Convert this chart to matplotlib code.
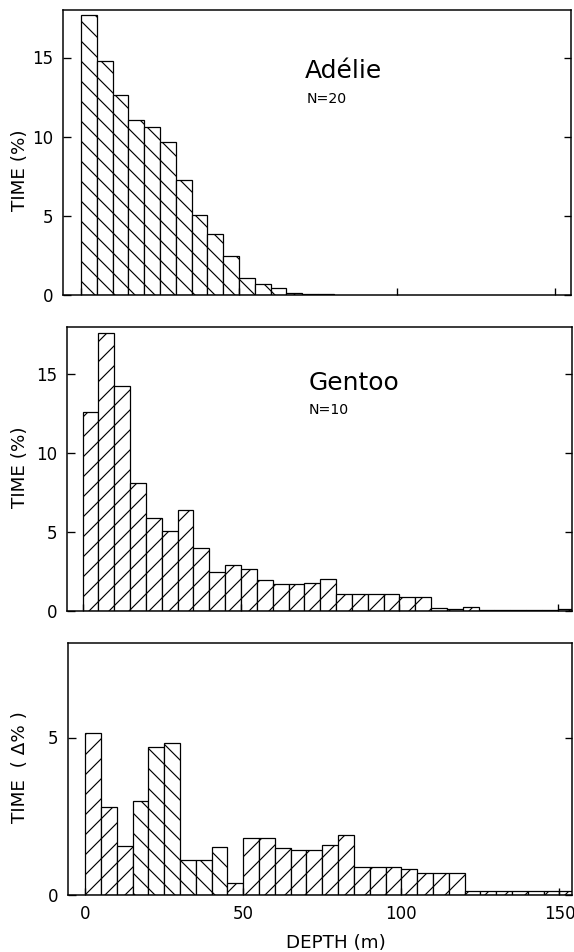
import matplotlib
matplotlib.use("Agg")
import matplotlib.pyplot as plt
import numpy as np

plt.rcParams['font.family'] = ['DejaVu Sans']
plt.rcParams['hatch.linewidth'] = 0.7

# ---- data (5-m depth bins) ----
bin_width = 5
adelie_bins = [0, 5, 10, 15, 20, 25, 30, 35, 40, 45, 50, 55, 60, 65, 70, 75]
adelie_vals = [17.66, 14.81, 12.62, 11.08, 10.59, 9.68, 7.28, 5.06, 3.84, 2.47,
               1.10, 0.68, 0.46, 0.12, 0.08, 0.06]

gentoo_bins = [0, 5, 10, 15, 20, 25, 30, 35, 40, 45, 50, 55, 60, 65, 70, 75,
               80, 85, 90, 95, 100, 105, 110, 115, 120, 125, 130, 135, 140, 145, 150]
gentoo_vals = [12.62, 17.65, 14.27, 8.10, 5.92, 5.07, 6.41, 3.97, 2.49, 2.92,
               2.69, 1.95, 1.72, 1.72, 1.80, 2.02, 1.10, 1.10, 1.10, 1.10,
               0.90, 0.90, 0.17, 0.12, 0.25, 0.08, 0.08, 0.08, 0.08, 0.08, 0.10]

diff_bins = [0, 5, 10, 15, 20, 25, 30, 35, 40, 45, 50, 55, 60, 65, 70, 75,
             80, 85, 90, 95, 100, 105, 110, 115, 120, 125, 130, 135, 140, 145, 150]
diff_vals = [5.13, 2.79, 1.56, 3.00, 4.71, 4.83, 1.10, 1.10, 1.51, 0.37,
             1.81, 1.80, 1.49, 1.42, 1.42, 1.60, 1.92, 0.90, 0.90, 0.88,
             0.84, 0.71, 0.71, 0.71, 0.13, 0.13, 0.13, 0.13, 0.13, 0.13, 0.13]
# which species has more time in the bin ('A' = Adelie, 'G' = Gentoo)
diff_owner = ['G', 'G', 'G', 'A', 'A', 'A', 'A', 'A', 'A', 'G',
              'G', 'G', 'G', 'G', 'G', 'G', 'G', 'G', 'G', 'G',
              'G', 'G', 'G', 'G', 'G', 'G', 'G', 'G', 'G', 'G', 'G']

y_ticks_main = [0, 5, 10, 15]
y_ticks_diff = [0, 5]
x_ticks = [0, 50, 100, 150]

W, H, DPI = 574, 952, 120
fig = plt.figure(figsize=(W / DPI, H / DPI), dpi=DPI)


def px_axes(left, right, top, bottom):
    return fig.add_axes([left / W, 1 - bottom / H, (right - left) / W, (bottom - top) / H])


ax1 = px_axes(63, 571, 10, 295)
ax2 = px_axes(67, 571.5, 327, 611)
ax3 = px_axes(68, 571.5, 643, 895)

hatch_map = {'A': '\\\\', 'G': '//'}
bar_kw = dict(width=bin_width, align='edge', facecolor='white', edgecolor='black', linewidth=0.75)

ax1.bar(adelie_bins, adelie_vals, hatch=hatch_map['A'], **bar_kw)
ax2.bar(gentoo_bins, gentoo_vals, hatch=hatch_map['G'], **bar_kw)
for b, v, o in zip(diff_bins, diff_vals, diff_owner):
    ax3.bar([b], [v], hatch=hatch_map[o], **bar_kw)

ax1.set_xlim(-5.7, 155.1)
ax2.set_xlim(-4.9, 154.3)
ax3.set_xlim(-5.4, 153.8)
ax1.set_ylim(0, 18)
ax2.set_ylim(0, 18)
ax3.set_ylim(0, 8)

for ax, yt in ((ax1, y_ticks_main), (ax2, y_ticks_main), (ax3, y_ticks_diff)):
    ax.set_yticks(yt)
    ax.set_xticks(x_ticks)
    ax.tick_params(direction='in', length=4.5, width=0.8, labelsize=10, pad=6,
                   right=True, top=False, colors='black')
    for s in ax.spines.values():
        s.set_linewidth(0.9)
    ax.set_ylabel('TIME (%)', fontsize=11)

ax1.tick_params(labelbottom=False)
ax2.tick_params(labelbottom=False)
ax3.set_ylabel('TIME  ( Δ% )', fontsize=11)

for ax, fy in ((ax1, 0.439), (ax2, 0.507), (ax3, 0.508)):
    ax.yaxis.label.set_va('center')
    xpx = ax.get_position().x0 * W
    ax.yaxis.set_label_coords((20 - xpx) / (ax.get_position().width * W), fy)

ax3.set_xlabel('DEPTH (m)', fontsize=11)
ax3.xaxis.label.set_va('center')
ax3.xaxis.set_label_coords((336 - 68) / 503.5, (895 - 943) / 252)

ax1.text(70.9, 13.7, 'Adélie', fontsize=15, ha='left', va='baseline')
ax1.text(71.5, 12.1, 'N=20', fontsize=8.5, ha='left', va='baseline')
ax2.text(71.3, 14.0, 'Gentoo', fontsize=15, ha='left', va='baseline')
ax2.text(71.3, 12.5, 'N=10', fontsize=8.5, ha='left', va='baseline')

fig.savefig('out.png', dpi=DPI)
